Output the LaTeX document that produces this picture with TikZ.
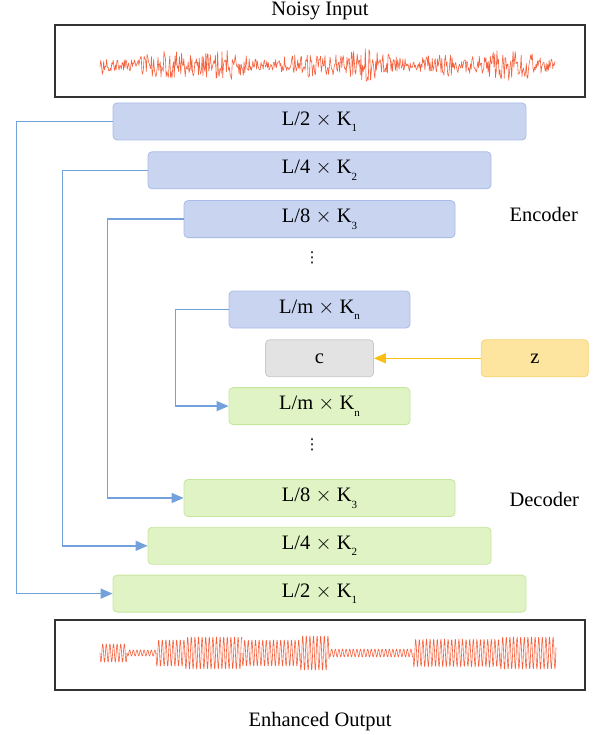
\documentclass[tikz,border=0pt]{standalone}
\usepackage{fontspec}
\setmainfont{Liberation Serif}
\newfontfamily\dotsfont{DejaVu Sans}
\usepackage{tikz}
\usetikzlibrary{arrows.meta,positioning}
\definecolor{encfill}{HTML}{C9D4F1}
\definecolor{encdraw}{HTML}{A9BBE6}
\definecolor{decfill}{HTML}{E0F3C5}
\definecolor{decdraw}{HTML}{C6E69E}
\definecolor{cfill}{HTML}{E3E3E3}
\definecolor{cdraw}{HTML}{C9C9C9}
\definecolor{zfill}{HTML}{FEE59F}
\definecolor{zdraw}{HTML}{F7D473}
\definecolor{zarrow}{HTML}{FBBE12}
\definecolor{skipblue}{HTML}{72A1DC}
\definecolor{wavered}{HTML}{F4623F}
\newcommand{\lsub}[1]{\raisebox{-6.5pt}{\fontsize{11}{11}\selectfont #1}}
\tikzset{block/.style={rounded corners=4pt,minimum height=37pt,line width=.8pt,inner sep=0pt,font=\fontsize{20.5}{24}\selectfont},
encblock/.style={block,draw=encdraw,fill=encfill},decblock/.style={block,draw=decdraw,fill=decfill},
cblock/.style={block,draw=cdraw,fill=cfill,minimum width=108pt},zblock/.style={block,draw=zdraw,fill=zfill,minimum width=107pt},
skipline/.style={draw=skipblue,line width=1.5pt,-{Triangle[length=12pt,width=10pt]}},
zline/.style={draw=zarrow,line width=1.5pt,-{Triangle[length=12pt,width=10pt]}},
frame/.style={draw=black!80,line width=1.3pt,minimum width=530pt,inner sep=0pt},
wave/.style={draw=wavered,line width=.6pt,line join=round},
note/.style={font=\fontsize{20.5}{24}\selectfont},
vdot/.style={font=\dotsfont\fontsize{15}{18}\selectfont,inner sep=0pt}}

\begin{document}
\begin{tikzpicture}[x=1pt,y=-1pt]
\useasboundingbox (0,0) rectangle (600,735);
% input / output frames
\node[frame,minimum height=72pt] (inbox) at (320,61) {};
\node[note,above=1pt of inbox] (intext) {Noisy Input};
\node[frame,minimum height=70pt] (outbox) at (320,655) {};
\node[note,below=18pt of outbox] (outtext) {Enhanced Output};
% encoder
\node[encblock,minimum width=413pt] (e1) at (319.5,121.5) {L/2 $\times$ K\lsub{1}};
\node[encblock,minimum width=343pt,below=11pt of e1] (e2) {L/4 $\times$ K\lsub{2}};
\node[encblock,minimum width=271pt,below=11pt of e2] (e3) {L/8 $\times$ K\lsub{3}};
\node[vdot] (edots) at (312,258) {⋮};
\node[encblock,minimum width=181pt] (en) at (319.5,309.5) {L/m $\times$ K\lsub{n}};
% bottleneck
\node[cblock,below=11pt of en] (c) {c};
\node[zblock,right=107pt of c] (z) {z};
% decoder
\node[decblock,minimum width=181pt,below=10pt of c] (dn) {L/m $\times$ K\lsub{n}};
\node[vdot] (ddots) at (312,445) {⋮};
\node[decblock,minimum width=271pt] (d3) at (319.5,498) {L/8 $\times$ K\lsub{3}};
\node[decblock,minimum width=343pt,below=10pt of d3] (d2) {L/4 $\times$ K\lsub{2}};
\node[decblock,minimum width=413pt,below=10pt of d2] (d1) {L/2 $\times$ K\lsub{1}};
\node[note,anchor=west] (enclabel) at (506,214) {Encoder};
\node[note,anchor=west] (declabel) at (506,499) {Decoder};
% skip connections
\draw[skipline] (e1.west) -- ++(-96,0) |- (d1.west);
\draw[skipline] (e2.west) -- ++(-85,0) |- (d2.west);
\draw[skipline] (e3.west) -- ++(-76,0) |- (d3.west);
\draw[skipline] (en.west) -- ++(-53,0) |- (dn.west);
\draw[zline] (z) -- (c);
% waveforms
\pgfmathsetseed{7}
\draw[wave] plot[domain=100:555,samples=620] (\x,{65+(11+3*sin(\x*2.3)+3*sin(\x*5.1))*rand});
\foreach \xa/\xb/\amp in {100/127/9,127/156/3,156/185/13,185/242/16,242/300/13,300/329/17,329/413/4,413/500/14,500/556/16}{
  \pgfmathsetmacro\seglen{\xb-\xa}
  \draw[wave] plot[domain=0:\seglen,samples=200] (\xa+\x,{653+\amp*sin(\x*100)});
}
\end{tikzpicture}
\end{document}
